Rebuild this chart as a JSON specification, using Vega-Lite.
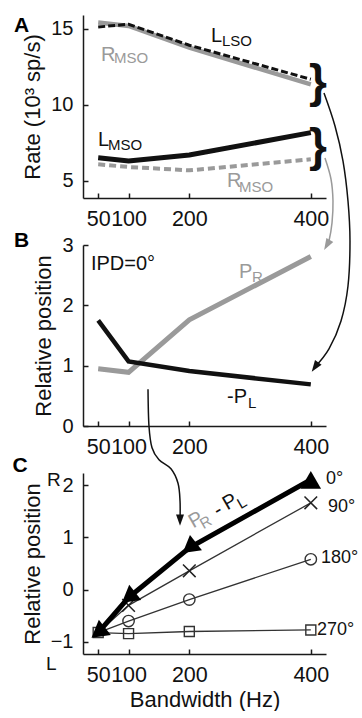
{
  "$schema": "https://vega.github.io/schema/vega-lite/v6.json",
  "padding": {"left": 12, "top": 13, "right": 0, "bottom": 0},
  "spacing": 47,
  "bounds": "flush",
  "config": {
    "font": "Liberation Sans",
    "view": {"stroke": null},
    "axis": {"grid": false, "domainColor": "#1a1a1a", "domainWidth": 1.5, "tickColor": "#1a1a1a", "tickWidth": 1.5, "tickSize": -5, "labelFontSize": 20, "labelColor": "#111", "labelPadding": 15, "titleFontSize": 22, "titleFontWeight": "normal", "titleColor": "#111", "labelOverlap": false, "labelFlush": false, "titlePadding": 6},
    "axisX": {"labelFontSize": 21.5}
  },
  "datasets": {
    "linesA": [
      {"s": "LLSO", "bw": 50, "v": 15.13}, {"s": "LLSO", "bw": 100, "v": 15.31}, {"s": "LLSO", "bw": 200, "v": 13.93}, {"s": "LLSO", "bw": 400, "v": 11.69},
      {"s": "RMSOhi", "bw": 50, "v": 15.42}, {"s": "RMSOhi", "bw": 100, "v": 15.2}, {"s": "RMSOhi", "bw": 200, "v": 13.77}, {"s": "RMSOhi", "bw": 400, "v": 11.35},
      {"s": "LMSO", "bw": 50, "v": 6.53}, {"s": "LMSO", "bw": 100, "v": 6.32}, {"s": "LMSO", "bw": 200, "v": 6.71}, {"s": "LMSO", "bw": 400, "v": 8.18},
      {"s": "RMSOlo", "bw": 50, "v": 6.1}, {"s": "RMSOlo", "bw": 100, "v": 5.92}, {"s": "RMSOlo", "bw": 200, "v": 5.7}, {"s": "RMSOlo", "bw": 400, "v": 6.43}
    ],
    "labelsA": [
      {"t": "L", "bw": 235.7, "v": 14.54, "side": "L", "role": "main"},
      {"t": "LSO", "bw": 253.8, "v": 14.21, "side": "L", "role": "sub"},
      {"t": "R", "bw": 54.6, "v": 13.29, "side": "R", "role": "main"},
      {"t": "MSO", "bw": 76, "v": 13.06, "side": "R", "role": "sub"},
      {"t": "L", "bw": 49.7, "v": 7.7, "side": "L", "role": "main"},
      {"t": "MSO", "bw": 66.2, "v": 7.37, "side": "L", "role": "sub"},
      {"t": "R", "bw": 262, "v": 5.0, "side": "R", "role": "main"},
      {"t": "MSO", "bw": 281.8, "v": 4.6, "side": "R", "role": "sub"}
    ],
    "bracesA": [{"t": "}", "bw": 411.8, "v": 11.45}, {"t": "}", "bw": 411.8, "v": 7.24}],
    "arrowA1": [
      {"i": 0, "bw": 421.7, "v": 10.79}, {"i": 1, "bw": 439.8, "v": 8.62}, {"i": 2, "bw": 453.0, "v": 6.31},
      {"i": 3, "bw": 461.2, "v": 3.68}, {"i": 4, "bw": 464.5, "v": 1.05}, {"i": 5, "bw": 461.2, "v": -1.91},
      {"i": 6, "bw": 449.7, "v": -4.21}, {"i": 7, "bw": 429.9, "v": -6.05}, {"i": 8, "bw": 406.9, "v": -7.24}
    ],
    "arrowA2": [
      {"i": 0, "bw": 423.3, "v": 6.51}, {"i": 1, "bw": 433.2, "v": 5.13}, {"i": 2, "bw": 436.5, "v": 3.68},
      {"i": 3, "bw": 434.9, "v": 2.24}, {"i": 4, "bw": 429.9, "v": 1.05}, {"i": 5, "bw": 426.6, "v": 0.79}
    ],
    "linesB": [
      {"s": "PR", "bw": 50, "v": 0.95}, {"s": "PR", "bw": 100, "v": 0.89}, {"s": "PR", "bw": 200, "v": 1.76}, {"s": "PR", "bw": 400, "v": 2.81},
      {"s": "PL", "bw": 50, "v": 1.75}, {"s": "PL", "bw": 100, "v": 1.07}, {"s": "PL", "bw": 200, "v": 0.91}, {"s": "PL", "bw": 400, "v": 0.69}
    ],
    "labelsB": [
      {"t": "IPD=0°", "bw": 38, "v": 2.69, "side": "N", "role": "main"},
      {"t": "P", "bw": 281.8, "v": 2.55, "side": "R", "role": "main"},
      {"t": "R", "bw": 303, "v": 2.47, "side": "R", "role": "sub"},
      {"t": "-P", "bw": 262, "v": 0.48, "side": "L", "role": "main"},
      {"t": "L", "bw": 296.6, "v": 0.38, "side": "L", "role": "sub"}
    ],
    "arrowB": [
      {"i": 0, "bw": 132.0, "v": 0.61}, {"i": 1, "bw": 133.6, "v": 0}, {"i": 2, "bw": 138.6, "v": -0.36},
      {"i": 3, "bw": 150.1, "v": -0.56}, {"i": 4, "bw": 169.8, "v": -0.71}, {"i": 5, "bw": 181.4, "v": -0.95},
      {"i": 6, "bw": 184.7, "v": -1.24}, {"i": 7, "bw": 184.7, "v": -1.56}
    ],
    "linesC": [
      {"ipd": "0", "bw": 50, "v": -0.82}, {"ipd": "0", "bw": 100, "v": -0.15}, {"ipd": "0", "bw": 200, "v": 0.8}, {"ipd": "0", "bw": 400, "v": 2.1},
      {"ipd": "90", "bw": 50, "v": -0.82}, {"ipd": "90", "bw": 100, "v": -0.3}, {"ipd": "90", "bw": 200, "v": 0.36}, {"ipd": "90", "bw": 400, "v": 1.66},
      {"ipd": "180", "bw": 50, "v": -0.82}, {"ipd": "180", "bw": 100, "v": -0.6}, {"ipd": "180", "bw": 200, "v": -0.19}, {"ipd": "180", "bw": 400, "v": 0.58},
      {"ipd": "270", "bw": 50, "v": -0.82}, {"ipd": "270", "bw": 100, "v": -0.84}, {"ipd": "270", "bw": 200, "v": -0.8}, {"ipd": "270", "bw": 400, "v": -0.77}
    ],
    "labelsC": [
      {"t": "0°", "bw": 425, "v": 2.11}, {"t": "90°", "bw": 428.3, "v": 1.58},
      {"t": "180°", "bw": 416.7, "v": 0.605}, {"t": "270°", "bw": 410, "v": -0.77}
    ],
    "rlC": [{"t": "R", "bw": -34.3, "v": 2.1}, {"t": "L", "bw": -36, "v": -1.43}],
    "diffC": [
      {"t": "P", "bw": 211, "v": 1.33, "side": "R", "role": "main"},
      {"t": "R", "bw": 227, "v": 1.29, "side": "R", "role": "sub"},
      {"t": "-", "bw": 247.2, "v": 1.52, "side": "L", "role": "main"},
      {"t": "P", "bw": 267, "v": 1.675, "side": "L", "role": "main"},
      {"t": "L", "bw": 286.7, "v": 1.66, "side": "L", "role": "sub"}
    ],
    "zeroC": [{"v": 0}]
  },
  "vconcat": [
    {
      "width": 243, "height": 183,
      "encoding": {
        "x": {"field": "bw", "type": "quantitative", "scale": {"domain": [25, 425], "nice": false, "zero": false}, "axis": {"values": [50, 100, 200, 400], "title": null}},
        "y": {"field": "v", "type": "quantitative", "scale": {"domain": [3.88, 15.92], "nice": false, "zero": false}, "axis": {"values": [5, 10, 15], "title": "Rate (10³ sp/s)"}}
      },
      "layer": [
        {"data": {"name": "linesA"}, "transform": [{"filter": "datum.s === 'RMSOhi'"}], "mark": {"type": "line", "color": "#9a9a9a", "strokeWidth": 4.5, "clip": false}},
        {"data": {"name": "linesA"}, "transform": [{"filter": "datum.s === 'LLSO'"}], "mark": {"type": "line", "color": "#111", "strokeWidth": 3, "strokeDash": [7, 3], "clip": false}},
        {"data": {"name": "linesA"}, "transform": [{"filter": "datum.s === 'RMSOlo'"}], "mark": {"type": "line", "color": "#9a9a9a", "strokeWidth": 4, "strokeDash": [7, 4], "clip": false}},
        {"data": {"name": "linesA"}, "transform": [{"filter": "datum.s === 'LMSO'"}], "mark": {"type": "line", "color": "#111", "strokeWidth": 5, "clip": false}},
        {"data": {"name": "labelsA"}, "mark": {"type": "text", "align": "left", "baseline": "middle", "clip": false},
         "encoding": {"text": {"field": "t"},
           "color": {"field": "side", "type": "nominal", "scale": {"domain": ["L", "R", "N"], "range": ["#111", "#9a9a9a", "#111"]}, "legend": null},
           "size": {"field": "role", "type": "ordinal", "scale": {"domain": ["main", "sub"], "range": [20, 15]}, "legend": null}}},
        {"data": {"name": "bracesA"}, "mark": {"type": "text", "align": "center", "baseline": "middle", "fontSize": 46, "fontWeight": "bold", "color": "#111", "clip": false},
         "encoding": {"text": {"field": "t"}}},
        {"data": {"values": [{"t": "A", "bw": -76.2, "v": 15.2}]}, "mark": {"type": "text", "align": "center", "baseline": "middle", "fontSize": 21, "fontWeight": "bold", "color": "#000", "clip": false},
         "encoding": {"text": {"field": "t"}}},
        {"data": {"name": "arrowA1"}, "mark": {"type": "line", "color": "#111", "strokeWidth": 1.5, "interpolate": "cardinal", "clip": false},
         "encoding": {"order": {"field": "i", "type": "quantitative"}}},
        {"data": {"name": "arrowA1"}, "transform": [{"filter": "datum.i === 8"}], "mark": {"type": "point", "shape": "M0,-1L0.7,1L-0.7,1Z", "filled": true, "color": "#111", "size": 130, "angle": 215, "opacity": 1, "clip": false}},
        {"data": {"name": "arrowA2"}, "mark": {"type": "line", "color": "#9a9a9a", "strokeWidth": 1.5, "interpolate": "cardinal", "clip": false},
         "encoding": {"order": {"field": "i", "type": "quantitative"}}},
        {"data": {"name": "arrowA2"}, "transform": [{"filter": "datum.i === 5"}], "mark": {"type": "point", "shape": "M0,-1L0.7,1L-0.7,1Z", "filled": true, "color": "#9a9a9a", "size": 130, "angle": 210, "opacity": 1, "clip": false}}
      ]
    },
    {
      "width": 243, "height": 181,
      "encoding": {
        "x": {"field": "bw", "type": "quantitative", "scale": {"domain": [25, 425], "nice": false, "zero": false}, "axis": {"values": [50, 100, 200, 400], "title": null}},
        "y": {"field": "v", "type": "quantitative", "scale": {"domain": [0, 3], "nice": false, "zero": false}, "axis": {"values": [0, 1, 2, 3], "title": "Relative position"}}
      },
      "layer": [
        {"data": {"name": "linesB"}, "transform": [{"filter": "datum.s === 'PR'"}], "mark": {"type": "line", "color": "#9a9a9a", "strokeWidth": 5, "clip": false}},
        {"data": {"name": "linesB"}, "transform": [{"filter": "datum.s === 'PL'"}], "mark": {"type": "line", "color": "#111", "strokeWidth": 4.5, "clip": false}},
        {"data": {"name": "labelsB"}, "mark": {"type": "text", "align": "left", "baseline": "middle", "clip": false},
         "encoding": {"text": {"field": "t"},
           "color": {"field": "side", "type": "nominal", "scale": {"domain": ["L", "R", "N"], "range": ["#111", "#9a9a9a", "#111"]}, "legend": null},
           "size": {"field": "role", "type": "ordinal", "scale": {"domain": ["main", "sub"], "range": [19, 15]}, "legend": null}}},
        {"data": {"values": [{"t": "B", "bw": -76.2, "v": 3.07}]}, "mark": {"type": "text", "align": "center", "baseline": "middle", "fontSize": 21, "fontWeight": "bold", "color": "#000", "clip": false},
         "encoding": {"text": {"field": "t"}}},
        {"data": {"name": "arrowB"}, "mark": {"type": "line", "color": "#111", "strokeWidth": 1.5, "interpolate": "cardinal", "clip": false},
         "encoding": {"order": {"field": "i", "type": "quantitative"}}},
        {"data": {"name": "arrowB"}, "transform": [{"filter": "datum.i === 7"}], "mark": {"type": "point", "shape": "M0,-1L0.7,1L-0.7,1Z", "filled": true, "color": "#111", "size": 130, "angle": 180, "opacity": 1, "clip": false}}
      ]
    },
    {
      "width": 243, "height": 181,
      "encoding": {
        "x": {"field": "bw", "type": "quantitative", "scale": {"domain": [25, 425], "nice": false, "zero": false}, "axis": {"values": [50, 100, 200, 400], "title": "Bandwidth (Hz)", "titlePadding": 4}},
        "y": {"field": "v", "type": "quantitative", "scale": {"domain": [-1.23, 2.23], "nice": false, "zero": false}, "axis": {"values": [-1, 0, 1, 2], "title": "Relative position"}}
      },
      "layer": [
        {"data": {"name": "zeroC"}, "mark": {"type": "rule", "color": "#333", "strokeWidth": 1.5, "clip": false}},
        {"data": {"name": "linesC"}, "transform": [{"filter": "datum.ipd !== '0'"}], "mark": {"type": "line", "color": "#333", "strokeWidth": 1.3, "clip": false},
         "encoding": {"detail": {"field": "ipd"}}},
        {"data": {"name": "linesC"}, "transform": [{"filter": "datum.ipd === '270'"}], "mark": {"type": "point", "shape": "square", "filled": false, "color": "#333", "strokeWidth": 1.4, "size": 100, "opacity": 1, "clip": false}},
        {"data": {"name": "linesC"}, "transform": [{"filter": "datum.ipd === '180' && datum.bw > 50"}], "mark": {"type": "point", "shape": "circle", "filled": false, "color": "#333", "strokeWidth": 1.4, "size": 130, "opacity": 1, "clip": false}},
        {"data": {"name": "linesC"}, "transform": [{"filter": "datum.ipd === '90' && datum.bw > 50"}], "mark": {"type": "point", "shape": "M-1,-1L1,1M-1,1L1,-1", "filled": false, "color": "#222", "strokeWidth": 1.5, "size": 160, "opacity": 1, "clip": false}},
        {"data": {"name": "linesC"}, "transform": [{"filter": "datum.ipd === '0'"}], "mark": {"type": "line", "color": "#000", "strokeWidth": 5, "clip": false}},
        {"data": {"name": "linesC"}, "transform": [{"filter": "datum.ipd === '0' && datum.bw === 400"}], "mark": {"type": "point", "shape": "triangle-up", "filled": true, "color": "#000", "size": 420, "opacity": 1, "clip": false}},
        {"data": {"name": "linesC"}, "transform": [{"filter": "datum.ipd === '0' && datum.bw < 400"}], "mark": {"type": "point", "shape": "triangle-up", "filled": true, "color": "#000", "size": 380, "angle": 232, "opacity": 1, "clip": false}},
        {"data": {"name": "labelsC"}, "mark": {"type": "text", "align": "left", "baseline": "middle", "fontSize": 18, "color": "#111", "clip": false},
         "encoding": {"text": {"field": "t"}}},
        {"data": {"name": "rlC"}, "mark": {"type": "text", "align": "left", "baseline": "middle", "fontSize": 19, "color": "#111", "clip": false},
         "encoding": {"text": {"field": "t"}}},
        {"data": {"name": "diffC"}, "mark": {"type": "text", "align": "center", "baseline": "middle", "angle": 330, "clip": false},
         "encoding": {"text": {"field": "t"},
           "color": {"field": "side", "type": "nominal", "scale": {"domain": ["L", "R", "N"], "range": ["#333", "#a5a5a5", "#111"]}, "legend": null},
           "size": {"field": "role", "type": "ordinal", "scale": {"domain": ["main", "sub"], "range": [19, 14]}, "legend": null}}},
        {"data": {"values": [{"t": "C", "bw": -78.7, "v": 2.36}]}, "mark": {"type": "text", "align": "center", "baseline": "middle", "fontSize": 21, "fontWeight": "bold", "color": "#000", "clip": false},
         "encoding": {"text": {"field": "t"}}}
      ]
    }
  ]
}
